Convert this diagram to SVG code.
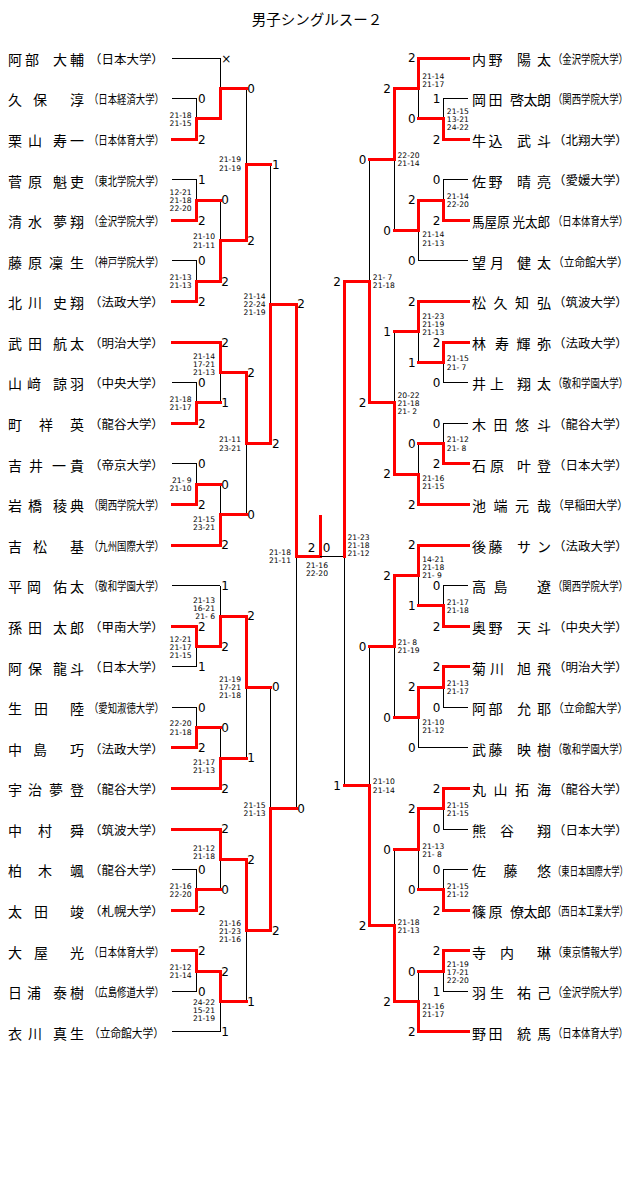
<svg xmlns="http://www.w3.org/2000/svg" width="640" height="1197" viewBox="0 0 640 1197">
<style>
.r{stroke:#f00;stroke-width:3;fill:none;stroke-linecap:square;shape-rendering:crispEdges}
.k{stroke:#000;stroke-width:1;fill:none;shape-rendering:crispEdges}
.nm{font-family:"Noto Sans CJK JP",sans-serif;font-size:14px;dominant-baseline:central;fill:#000}
.un{font-family:"Noto Sans CJK JP",sans-serif;font-size:12px;dominant-baseline:central;fill:#000}
.tt{font-family:"Noto Sans CJK JP",sans-serif;font-size:14.5px;dominant-baseline:central;text-anchor:middle;fill:#000}
.sc{font-family:"DejaVu Sans",sans-serif;font-size:12px;fill:#000}
.e{text-anchor:end}
.st{font-family:"DejaVu Sans",sans-serif;font-size:7.6px;fill:#000}
</style>
<rect width="640" height="1197" fill="#fff"/>
<g id="title"><text class="tt" x="317" y="18.5">男子シングルスー２</text></g>

<g id="connectors">
<path class="k" d="M172,58H220M172,98.6H196.7M172,179.7H196.7M172,260.9H196.7M172,382.6H196.7M172,463.8H196.7M172,585.5H220M172,666.7H196.7M172,707.3H196.7M172,869.6H196.7M172,991.3H196.7M172,1031.9H220"/>
<path class="r" d="M172,139.2H196.7M172,220.3H196.7M172,301.5H196.7M172,342.1H220M172,423.2H196.7M172,504.4H196.7M172,545H220M172,626.1H196.7M172,747.9H196.7M172,788.4H220M172,829H220M172,910.2H196.7M172,950.8H196.7"/>
<path class="k" d="M196.7,98.6V118.9M220,58V88.5M196.7,179.7V200M196.7,260.9V281.2M220,200V240.6M246,88.5V164.5M196.7,382.6V402.9M220,402.9V372.5M196.7,463.8V484.1M220,484.1V514.6M246,514.6V443.5M270.7,164.5V304M196.7,666.7V646.4M220,585.5V616M196.7,707.3V727.6M220,727.6V758M246,758V687M196.7,869.6V889.9M220,889.9V859.5M196.7,991.3V971.1M220,1031.9V1001.5M246,1001.5V930.5M270.7,687V808.7M296,808.7V556.5"/>
<path class="r" d="M196.7,139.2V118.9H220"/>
<path class="r" d="M220,118.9V88.5H246"/>
<path class="r" d="M196.7,220.3V200H220"/>
<path class="r" d="M196.7,301.5V281.2H220"/>
<path class="r" d="M220,281.2V240.6H246"/>
<path class="r" d="M246,240.6V164.5H270.7"/>
<path class="r" d="M196.7,423.2V402.9H220"/>
<path class="r" d="M220,342.1V372.5H246"/>
<path class="r" d="M196.7,504.4V484.1H220"/>
<path class="r" d="M220,545V514.6H246"/>
<path class="r" d="M246,372.5V443.5H270.7"/>
<path class="r" d="M270.7,443.5V304H296"/>
<path class="r" d="M196.7,626.1V646.4H220"/>
<path class="r" d="M220,646.4V616H246"/>
<path class="r" d="M196.7,747.9V727.6H220"/>
<path class="r" d="M220,788.4V758H246"/>
<path class="r" d="M246,616V687H270.7"/>
<path class="r" d="M196.7,910.2V889.9H220"/>
<path class="r" d="M220,829V859.5H246"/>
<path class="r" d="M196.7,950.8V971.1H220"/>
<path class="r" d="M220,971.1V1001.5H246"/>
<path class="r" d="M246,859.5V930.5H270.7"/>
<path class="r" d="M270.7,930.5V808.7H296"/>
<path class="r" d="M296,304V556.5H320V516"/>
<path class="k" d="M468.3,98.6H443.3M468.3,179.7H443.3M468.3,260.9H418.7M468.3,382.6H443.3M468.3,423.2H443.3M468.3,585.5H443.3M468.3,707.3H443.3M468.3,747.9H418.7M468.3,829H443.3M468.3,869.6H443.3M468.3,991.3H443.3"/>
<path class="r" d="M468.3,58H418.7M468.3,139.2H443.3M468.3,220.3H443.3M468.3,301.5H418.7M468.3,342.1H443.3M468.3,463.8H443.3M468.3,504.4H418.7M468.3,545H418.7M468.3,626.1H443.3M468.3,666.7H443.3M468.3,788.4H443.3M468.3,910.2H443.3M468.3,950.8H443.3M468.3,1031.9H418.7"/>
<path class="k" d="M443.3,98.6V118.9M418.7,118.9V88.5M443.3,179.7V200M418.7,260.9V230.5M394,230.5V159.5M443.3,382.6V362.4M418.7,362.4V331.9M443.3,423.2V443.5M418.7,443.5V474M394,331.9V402.9M369.3,159.5V281.2M443.3,585.5V605.8M418.7,605.8V575.4M443.3,707.3V687M418.7,747.9V717.5M394,717.5V646.4M443.3,829V808.7M443.3,869.6V889.9M418.7,889.9V849.3M443.3,991.3V971.1M418.7,971.1V1001.5M394,849.3V925.4M369.3,646.4V785.9M344,785.9V556.5H320"/>
<path class="r" d="M443.3,139.2V118.9H418.7"/>
<path class="r" d="M418.7,58V88.5H394"/>
<path class="r" d="M443.3,220.3V200H418.7"/>
<path class="r" d="M418.7,200V230.5H394"/>
<path class="r" d="M394,88.5V159.5H369.3"/>
<path class="r" d="M443.3,342.1V362.4H418.7"/>
<path class="r" d="M418.7,301.5V331.9H394"/>
<path class="r" d="M443.3,463.8V443.5H418.7"/>
<path class="r" d="M418.7,504.4V474H394"/>
<path class="r" d="M394,474V402.9H369.3"/>
<path class="r" d="M369.3,402.9V281.2H344"/>
<path class="r" d="M443.3,626.1V605.8H418.7"/>
<path class="r" d="M418.7,545V575.4H394"/>
<path class="r" d="M443.3,666.7V687H418.7"/>
<path class="r" d="M418.7,687V717.5H394"/>
<path class="r" d="M394,575.4V646.4H369.3"/>
<path class="r" d="M443.3,788.4V808.7H418.7"/>
<path class="r" d="M443.3,910.2V889.9H418.7"/>
<path class="r" d="M418.7,808.7V849.3H394"/>
<path class="r" d="M443.3,950.8V971.1H418.7"/>
<path class="r" d="M418.7,1031.9V1001.5H394"/>
<path class="r" d="M394,1001.5V925.4H369.3"/>
<path class="r" d="M369.3,925.4V785.9H344"/>
<path class="r" d="M344,281.2V556.5"/>
</g>

<g id="players-left">
<g id="L00"><text class="nm" x="8 25 40 53 70" y="58.8">阿部 大輔</text><text class="un" transform="translate(89 58.8) scale(1.04 1)">（日本大学）</text></g>
<g id="L01"><text class="nm" x="8 33 50 70" y="99.4">久保 淳</text><text class="un" transform="translate(89 99.4) scale(0.781 1)">（日本経済大学）</text></g>
<g id="L02"><text class="nm" x="8 28 40 53 70" y="140">栗山 寿一</text><text class="un" transform="translate(89 140) scale(0.781 1)">（日本体育大学）</text></g>
<g id="L03"><text class="nm" x="8 28 40 53 70" y="180.5">菅原 魁吏</text><text class="un" transform="translate(89 180.5) scale(0.781 1)">（東北学院大学）</text></g>
<g id="L04"><text class="nm" x="8 28 40 53 70" y="221.1">清水 夢翔</text><text class="un" transform="translate(89 221.1) scale(0.781 1)">（金沢学院大学）</text></g>
<g id="L05"><text class="nm" x="8 28 49 70" y="261.7">藤原凜生</text><text class="un" transform="translate(89 261.7) scale(0.781 1)">（神戸学院大学）</text></g>
<g id="L06"><text class="nm" x="8 28 40 53 70" y="302.3">北川 史翔</text><text class="un" transform="translate(89 302.3) scale(1.04 1)">（法政大学）</text></g>
<g id="L07"><text class="nm" x="8 28 40 53 70" y="342.9">武田 航太</text><text class="un" transform="translate(89 342.9) scale(1.04 1)">（明治大学）</text></g>
<g id="L08"><text class="nm" x="8 27 40 53 70" y="383.4">山﨑 諒羽</text><text class="un" transform="translate(89 383.4) scale(1.04 1)">（中央大学）</text></g>
<g id="L09"><text class="nm" x="8 24 39 55 70" y="424">町 祥 英</text><text class="un" transform="translate(89 424) scale(1.04 1)">（龍谷大学）</text></g>
<g id="L10"><text class="nm" x="8 29 52 70" y="464.6">吉井一貴</text><text class="un" transform="translate(89 464.6) scale(1.04 1)">（帝京大学）</text></g>
<g id="L11"><text class="nm" x="8 28 40 53 70" y="505.2">岩橋 稜典</text><text class="un" transform="translate(89 505.2) scale(0.781 1)">（関西学院大学）</text></g>
<g id="L12"><text class="nm" x="8 33 50 70" y="545.8">吉松 基</text><text class="un" transform="translate(89 545.8) scale(0.781 1)">（九州国際大学）</text></g>
<g id="L13"><text class="nm" x="8 27 40 53 70" y="586.3">平岡 佑太</text><text class="un" transform="translate(89 586.3) scale(0.781 1)">（敬和学園大学）</text></g>
<g id="L14"><text class="nm" x="8 28 40 53 70" y="626.9">孫田 太郎</text><text class="un" transform="translate(89 626.9) scale(1.04 1)">（甲南大学）</text></g>
<g id="L15"><text class="nm" x="8 28 40 53 70" y="667.5">阿保 龍斗</text><text class="un" transform="translate(89 667.5) scale(1.04 1)">（日本大学）</text></g>
<g id="L16"><text class="nm" x="8 34 50 70" y="708.1">生田 陸</text><text class="un" transform="translate(89 708.1) scale(0.781 1)">（愛知淑徳大学）</text></g>
<g id="L17"><text class="nm" x="8 33 50 70" y="748.7">中島 巧</text><text class="un" transform="translate(89 748.7) scale(1.04 1)">（法政大学）</text></g>
<g id="L18"><text class="nm" x="8 28 49 70" y="789.2">宇治夢登</text><text class="un" transform="translate(89 789.2) scale(1.04 1)">（龍谷大学）</text></g>
<g id="L19"><text class="nm" x="8 23 38 54 70" y="829.8">中 村 舜</text><text class="un" transform="translate(89 829.8) scale(1.04 1)">（筑波大学）</text></g>
<g id="L20"><text class="nm" x="8 23 38 54 70" y="870.4">柏 木 颯</text><text class="un" transform="translate(89 870.4) scale(1.04 1)">（龍谷大学）</text></g>
<g id="L21"><text class="nm" x="8 34 50 70" y="911">太田 竣</text><text class="un" transform="translate(89 911) scale(1.04 1)">（札幌大学）</text></g>
<g id="L22"><text class="nm" x="8 34 50 70" y="951.6">大屋 光</text><text class="un" transform="translate(89 951.6) scale(0.781 1)">（日本体育大学）</text></g>
<g id="L23"><text class="nm" x="8 27 40 53 70" y="992.1">日浦 泰樹</text><text class="un" transform="translate(89 992.1) scale(0.781 1)">（広島修道大学）</text></g>
<g id="L24"><text class="nm" x="8 28 40 53 70" y="1032.7">衣川 真生</text><text class="un" transform="translate(89 1032.7) scale(0.893 1)">（立命館大学）</text></g>
</g>

<g id="players-right">
<g id="R00"><text class="nm" x="472 488.5 503 517 537" y="58.8">内野 陽太</text><text class="un" transform="translate(553 58.8) scale(0.781 1)">（金沢学院大学）</text></g>
<g id="R01"><text class="nm" x="472 488.5 500 510 523.5 537" y="99.4">岡田 啓太朗</text><text class="un" transform="translate(553 99.4) scale(0.781 1)">（関西学院大学）</text></g>
<g id="R02"><text class="nm" x="472 488.5 503 517 537" y="140">牛込 武斗</text><text class="un" transform="translate(553 140) scale(1.04 1)">（北翔大学）</text></g>
<g id="R03"><text class="nm" x="472 488.5 503 517 537" y="180.5">佐野 晴亮</text><text class="un" transform="translate(553 180.5) scale(1.04 1)">（愛媛大学）</text></g>
<g id="R04"><text class="nm" x="472" y="221.1" textLength="78" lengthAdjust="spacingAndGlyphs">馬屋原 光太郎</text><text class="un" transform="translate(553 221.1) scale(0.781 1)">（日本体育大学）</text></g>
<g id="R05"><text class="nm" x="472 490 503 517 537" y="261.7">望月 健太</text><text class="un" transform="translate(553 261.7) scale(0.893 1)">（立命館大学）</text></g>
<g id="R06"><text class="nm" x="472 493.5 515 537" y="302.3">松久知弘</text><text class="un" transform="translate(553 302.3) scale(1.04 1)">（筑波大学）</text></g>
<g id="R07"><text class="nm" x="472 484 495 516.5 537" y="342.9">林 寿輝弥</text><text class="un" transform="translate(553 342.9) scale(1.04 1)">（法政大学）</text></g>
<g id="R08"><text class="nm" x="472 490 503 517 537" y="383.4">井上 翔太</text><text class="un" transform="translate(553 383.4) scale(0.781 1)">（敬和学園大学）</text></g>
<g id="R09"><text class="nm" x="472 493.5 515 537" y="424">木田悠斗</text><text class="un" transform="translate(553 424) scale(1.04 1)">（龍谷大学）</text></g>
<g id="R10"><text class="nm" x="472 490 503 517 537" y="464.6">石原 叶登</text><text class="un" transform="translate(553 464.6) scale(1.04 1)">（日本大学）</text></g>
<g id="R11"><text class="nm" x="472 493.5 515 537" y="505.2">池端元哉</text><text class="un" transform="translate(553 505.2) scale(0.893 1)">（早稲田大学）</text></g>
<g id="R12"><text class="nm" x="472 488.5 503 517 537" y="545.8">後藤 サン</text><text class="un" transform="translate(553 545.8) scale(1.04 1)">（法政大学）</text></g>
<g id="R13"><text class="nm" x="472 493.5 515 537" y="586.3">高島 遼</text><text class="un" transform="translate(553 586.3) scale(0.781 1)">（関西学院大学）</text></g>
<g id="R14"><text class="nm" x="472 488.5 503 517 537" y="626.9">奥野 天斗</text><text class="un" transform="translate(553 626.9) scale(1.04 1)">（中央大学）</text></g>
<g id="R15"><text class="nm" x="472 490 503 517 537" y="667.5">菊川 旭飛</text><text class="un" transform="translate(553 667.5) scale(1.04 1)">（明治大学）</text></g>
<g id="R16"><text class="nm" x="472 488.5 503 517 537" y="708.1">阿部 允耶</text><text class="un" transform="translate(553 708.1) scale(0.893 1)">（立命館大学）</text></g>
<g id="R17"><text class="nm" x="472 488.5 503 517 537" y="748.7">武藤 映樹</text><text class="un" transform="translate(553 748.7) scale(0.781 1)">（敬和学園大学）</text></g>
<g id="R18"><text class="nm" x="472 493.5 515 537" y="789.2">丸山拓海</text><text class="un" transform="translate(553 789.2) scale(1.04 1)">（龍谷大学）</text></g>
<g id="R19"><text class="nm" x="472 500 518 537" y="829.8">熊谷 翔</text><text class="un" transform="translate(553 829.8) scale(1.04 1)">（日本大学）</text></g>
<g id="R20"><text class="nm" x="472 488 503.5 520 537" y="870.4">佐 藤 悠</text><text class="un" transform="translate(553 870.4) scale(0.694 1)">（東日本国際大学）</text></g>
<g id="R21"><text class="nm" x="472 488.5 500 510 523.5 537" y="911">篠原 僚太郎</text><text class="un" transform="translate(553 911) scale(0.694 1)">（西日本工業大学）</text></g>
<g id="R22"><text class="nm" x="472 500 518 537" y="951.6">寺内 琳</text><text class="un" transform="translate(553 951.6) scale(0.781 1)">（東京情報大学）</text></g>
<g id="R23"><text class="nm" x="472 490 503 517 537" y="992.1">羽生 祐己</text><text class="un" transform="translate(553 992.1) scale(0.781 1)">（金沢学院大学）</text></g>
<g id="R24"><text class="nm" x="472 488.5 503 517 537" y="1032.7">野田 統馬</text><text class="un" transform="translate(553 1032.7) scale(0.781 1)">（日本体育大学）</text></g>
</g>

<g id="scores" class="sc">
<text x="197.9" y="103">0</text><text x="197.9" y="143.6">2</text><text x="197.9" y="184.1">1</text><text x="197.9" y="224.7">2</text><text x="197.9" y="265.3">0</text><text x="197.9" y="305.9">2</text><text x="197.9" y="387">0</text><text x="197.9" y="427.6">2</text><text x="197.9" y="468.2">0</text><text x="197.9" y="508.8">2</text><text x="197.9" y="630.5">2</text><text x="197.9" y="671.1">1</text><text x="197.9" y="711.7">0</text><text x="197.9" y="752.3">2</text><text x="197.9" y="874">0</text><text x="197.9" y="914.6">2</text><text x="197.9" y="955.2">2</text><text x="197.9" y="995.7">0</text>
<text x="221.2" y="62.6">×</text><text x="221.2" y="204.4">0</text><text x="221.2" y="285.6">2</text><text x="221.2" y="346.5">2</text><text x="221.2" y="407.3">1</text><text x="221.2" y="488.5">0</text><text x="221.2" y="549.4">2</text><text x="221.2" y="589.9">1</text><text x="221.2" y="650.8">2</text><text x="221.2" y="732">0</text><text x="221.2" y="792.8">2</text><text x="221.2" y="833.4">2</text><text x="221.2" y="894.3">0</text><text x="221.2" y="975.5">2</text><text x="221.2" y="1036.3">1</text>
<text x="247.2" y="92.9">0</text><text x="247.2" y="245">2</text><text x="247.2" y="376.9">2</text><text x="247.2" y="519">0</text><text x="247.2" y="620.4">2</text><text x="247.2" y="762.4">1</text><text x="247.2" y="863.9">2</text><text x="247.2" y="1005.9">1</text>
<text x="271.9" y="168.9">1</text><text x="271.9" y="447.9">2</text><text x="271.9" y="691.4">0</text><text x="271.9" y="934.9">2</text>
<text x="297.2" y="308.4">2</text><text x="297.2" y="813.1">0</text>
<text class="e" x="315.5" y="551.9">2</text><text x="322.8" y="551.9">0</text>
<g class="e">
<text x="440.3" y="103">1</text><text x="440.3" y="143.6">2</text><text x="440.3" y="184.1">0</text><text x="440.3" y="224.7">2</text><text x="440.3" y="346.5">2</text><text x="440.3" y="387">0</text><text x="440.3" y="427.6">0</text><text x="440.3" y="468.2">2</text><text x="440.3" y="589.9">0</text><text x="440.3" y="630.5">2</text><text x="440.3" y="671.1">2</text><text x="440.3" y="711.7">0</text><text x="440.3" y="792.8">2</text><text x="440.3" y="833.4">0</text><text x="440.3" y="874">0</text><text x="440.3" y="914.6">2</text><text x="440.3" y="955.2">2</text><text x="440.3" y="995.7">1</text>
<text x="415.7" y="62.4">2</text><text x="415.7" y="123.3">0</text><text x="415.7" y="204.4">2</text><text x="415.7" y="265.3">0</text><text x="415.7" y="305.9">2</text><text x="415.7" y="366.8">1</text><text x="415.7" y="447.9">0</text><text x="415.7" y="508.8">2</text><text x="415.7" y="549.4">2</text><text x="415.7" y="610.2">1</text><text x="415.7" y="691.4">2</text><text x="415.7" y="752.3">0</text><text x="415.7" y="813.1">2</text><text x="415.7" y="894.3">0</text><text x="415.7" y="975.5">0</text><text x="415.7" y="1036.3">2</text>
<text x="391" y="92.9">2</text><text x="391" y="234.9">0</text><text x="391" y="336.3">1</text><text x="391" y="478.4">2</text><text x="391" y="579.8">2</text><text x="391" y="721.9">0</text><text x="391" y="853.7">0</text><text x="391" y="1005.9">2</text>
<text x="366.3" y="163.9">0</text><text x="366.3" y="407.3">2</text><text x="366.3" y="650.8">0</text><text x="366.3" y="929.8">2</text>
<text x="341" y="285.6">2</text><text x="341" y="790.3">1</text>
</g>
</g>

<g id="set-scores" class="st">
<g class="e">
<text x="191.7" y="117.9">21-18<tspan x="191.7" dy="8.1">21-15</tspan></text>
<text x="191.7" y="194.5">12-21<tspan x="191.7" dy="8.1">21-18</tspan><tspan x="191.7" dy="8.1">22-20</tspan></text>
<text x="191.7" y="279.9">21-13<tspan x="191.7" dy="8.1">21-13</tspan></text>
<text x="215" y="239.4">21-10<tspan x="215" dy="8.1">21-11</tspan></text>
<text x="241" y="162.4">21-19<tspan x="241" dy="8.1">21-19</tspan></text>
<text x="191.7" y="401.9">21-18<tspan x="191.7" dy="8.1">21-17</tspan></text>
<text x="215" y="359.1">21-14<tspan x="215" dy="8.1">17-21</tspan><tspan x="215" dy="8.1">21-13</tspan></text>
<text x="191.7" y="482.9">21- 9<tspan x="191.7" dy="8.1">21-10</tspan></text>
<text x="215" y="521.9">21-15<tspan x="215" dy="8.1">23-21</tspan></text>
<text x="241" y="442.4">21-11<tspan x="241" dy="8.1">23-21</tspan></text>
<text x="265.7" y="298.8">21-14<tspan x="265.7" dy="8.1">22-24</tspan><tspan x="265.7" dy="8.1">21-19</tspan></text>
<text x="191.7" y="641.8">12-21<tspan x="191.7" dy="8.1">21-17</tspan><tspan x="191.7" dy="8.1">21-15</tspan></text>
<text x="215" y="602.8">21-13<tspan x="215" dy="8.1">16-21</tspan><tspan x="215" dy="8.1">21- 6</tspan></text>
<text x="191.7" y="726.4">22-20<tspan x="191.7" dy="8.1">21-18</tspan></text>
<text x="215" y="764.9">21-17<tspan x="215" dy="8.1">21-13</tspan></text>
<text x="241" y="681.8">21-19<tspan x="241" dy="8.1">17-21</tspan><tspan x="241" dy="8.1">21-18</tspan></text>
<text x="191.7" y="888.9">21-16<tspan x="191.7" dy="8.1">22-20</tspan></text>
<text x="215" y="850.9">21-12<tspan x="215" dy="8.1">21-18</tspan></text>
<text x="191.7" y="969.9">21-12<tspan x="191.7" dy="8.1">21-14</tspan></text>
<text x="215" y="1004.8">24-22<tspan x="215" dy="8.1">15-21</tspan><tspan x="215" dy="8.1">21-19</tspan></text>
<text x="241" y="925.5">21-16<tspan x="241" dy="8.1">21-23</tspan><tspan x="241" dy="8.1">21-16</tspan></text>
<text x="265.7" y="807.9">21-15<tspan x="265.7" dy="8.1">21-13</tspan></text>
<text x="291" y="555.2">21-18<tspan x="291" dy="8.1">21-11</tspan></text>
</g>
<text x="317" y="567.8" text-anchor="middle">21-16<tspan x="317" dy="8.1">22-20</tspan></text>
<text x="446.8" y="114.1">21-15<tspan x="446.8" dy="8.1">13-21</tspan><tspan x="446.8" dy="8.1">24-22</tspan></text>
<text x="422.2" y="78.9">21-14<tspan x="422.2" dy="8.1">21-17</tspan></text>
<text x="446.8" y="198.9">21-14<tspan x="446.8" dy="8.1">22-20</tspan></text>
<text x="422.2" y="237.4">21-14<tspan x="422.2" dy="8.1">21-13</tspan></text>
<text x="397.5" y="157.9">22-20<tspan x="397.5" dy="8.1">21-14</tspan></text>
<text x="446.8" y="361.4">21-15<tspan x="446.8" dy="8.1">21- 7</tspan></text>
<text x="422.2" y="318.8">21-23<tspan x="422.2" dy="8.1">21-19</tspan><tspan x="422.2" dy="8.1">21-13</tspan></text>
<text x="446.8" y="442.4">21-12<tspan x="446.8" dy="8.1">21- 8</tspan></text>
<text x="422.2" y="480.9">21-16<tspan x="422.2" dy="8.1">21-15</tspan></text>
<text x="397.5" y="397.8">20-22<tspan x="397.5" dy="8.1">21-18</tspan><tspan x="397.5" dy="8.1">21- 2</tspan></text>
<text x="372.8" y="279.9">21- 7<tspan x="372.8" dy="8.1">21-18</tspan></text>
<text x="446.8" y="604.9">21-17<tspan x="446.8" dy="8.1">21-18</tspan></text>
<text x="422.2" y="562.2">14-21<tspan x="422.2" dy="8.1">21-18</tspan><tspan x="422.2" dy="8.1">21- 9</tspan></text>
<text x="446.8" y="685.9">21-13<tspan x="446.8" dy="8.1">21-17</tspan></text>
<text x="422.2" y="724.9">21-10<tspan x="422.2" dy="8.1">21-12</tspan></text>
<text x="397.5" y="644.9">21- 8<tspan x="397.5" dy="8.1">21-19</tspan></text>
<text x="446.8" y="807.9">21-15<tspan x="446.8" dy="8.1">21-15</tspan></text>
<text x="446.8" y="888.9">21-15<tspan x="446.8" dy="8.1">21-12</tspan></text>
<text x="422.2" y="848.9">21-13<tspan x="422.2" dy="8.1">21- 8</tspan></text>
<text x="446.8" y="966.5">21-19<tspan x="446.8" dy="8.1">17-21</tspan><tspan x="446.8" dy="8.1">22-20</tspan></text>
<text x="422.2" y="1008.9">21-16<tspan x="422.2" dy="8.1">21-17</tspan></text>
<text x="397.5" y="924.9">21-18<tspan x="397.5" dy="8.1">21-13</tspan></text>
<text x="372.8" y="784.4">21-10<tspan x="372.8" dy="8.1">21-14</tspan></text>
<text x="347.5" y="539.5">21-23<tspan x="347.5" dy="8.1">21-18</tspan><tspan x="347.5" dy="8.1">21-12</tspan></text>
</g>
</svg>
